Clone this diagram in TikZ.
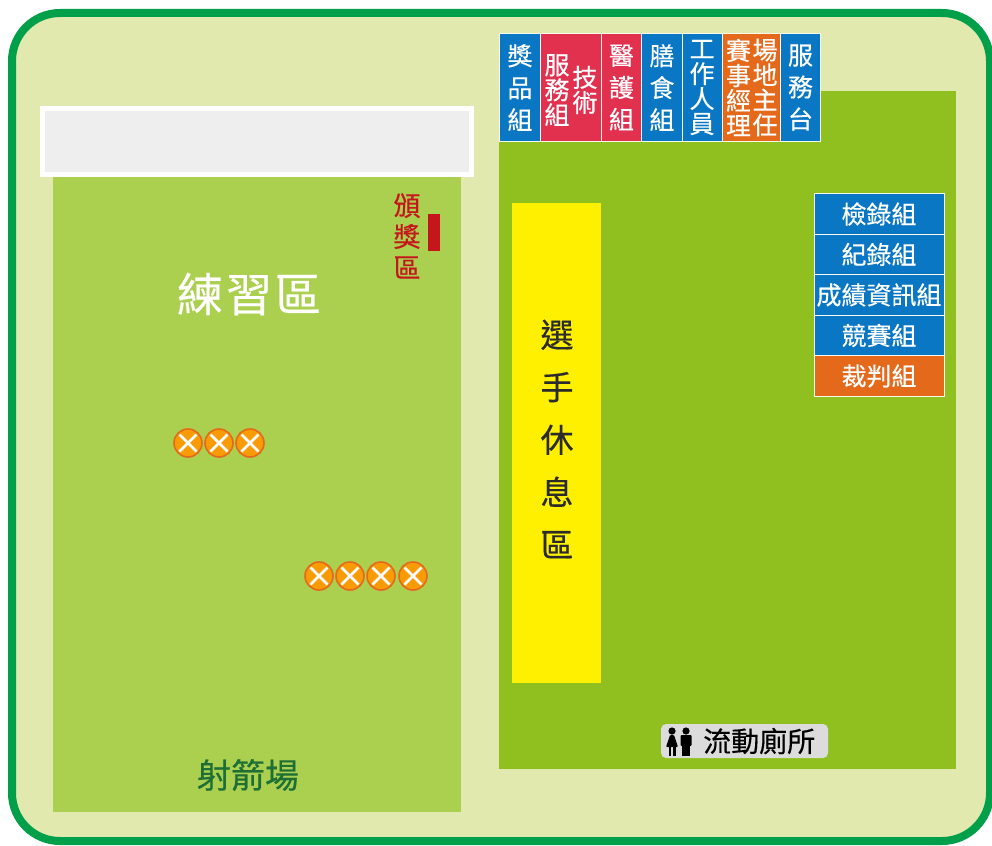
\documentclass[tikz,border=0pt]{standalone}
\usepackage{fontspec}
\setmainfont{Noto Sans CJK TC}[FakeBold=0.4]
\definecolor{bgc}{HTML}{E1E9AE}
\definecolor{bordc}{HTML}{00A04A}
\definecolor{fieldl}{HTML}{ABCF4F}
\definecolor{fieldr}{HTML}{8FC01F}
\definecolor{bluec}{HTML}{0A77C4}
\definecolor{redc}{HTML}{E2304F}
\definecolor{orangec}{HTML}{E4691A}
\definecolor{tfill}{HTML}{F99B05}
\definecolor{yellowc}{HTML}{FFF000}
\definecolor{darkred}{HTML}{C4161C}
\definecolor{labelg}{HTML}{1E6F36}
\definecolor{greyc}{HTML}{EEEEEE}
\definecolor{wcc}{HTML}{DCDCDC}
\definecolor{txtc}{HTML}{2B2B2B}
\tikzset{x=1pt,y=-1pt,
 vbox/.style={draw=white!75!bgc,line width=1pt,inner sep=0pt,text=white,font=\fontsize{25}{32}\selectfont,align=center},
 hbox/.style={draw=white!75!bgc,line width=1pt,inner sep=0pt,text=white,font=\fontsize{25}{26}\selectfont,align=center,minimum width=130pt,minimum height=41pt,anchor=center},
 vlabel/.style={text=white,inner sep=0pt,font=\fontsize{25}{25}\selectfont,align=center},
 target/.style={circle,draw=orangec,line width=1.6pt,fill=tfill,minimum size=28pt,inner sep=0pt,
   path picture={\draw[white,line width=2.6pt] (path picture bounding box.center) ++(-8.5pt,-8.5pt) -- ++(17pt,17pt);
                 \draw[white,line width=2.6pt] (path picture bounding box.center) ++(-8.5pt,8.5pt) -- ++(17pt,-17pt);}}
}
\newcommand{\vb}[7]{\node[vbox,fill=#6,minimum width=#3pt-#1pt,minimum height=#4pt-#2pt,anchor=north west] (#5) at (#1,#2) {#7};}
\begin{document}
\begin{tikzpicture}
\useasboundingbox (0,0) rectangle (992,845);
\fill[white] (0,0) rectangle (992,845);
\draw[bordc,line width=8pt,fill=bgc,rounded corners=48pt] (12,13) rectangle (990,841);
% fields
\fill[fieldl] (53,170) rectangle (461,812);
\fill[fieldr] (499,91) rectangle (956,769);
\node[draw=white,line width=5pt,fill=greyc,minimum width=429pt,minimum height=66pt,inner sep=0pt] (stage) at (257,142) {};
\fill[yellowc] (512,203) rectangle (601,683);
\node[text=txtc,font=\fontsize{33}{52.5}\selectfont,align=center] (rest) at (557,439) {選\\手\\休\\息\\區};
\node[text=white,font=\fontsize{46}{48}\selectfont] (prac) at (249,294) {練\hspace{3pt}習\hspace{3pt}區};
\node[text=labelg,font=\fontsize{34}{36}\selectfont] (arch) at (248,775) {射箭場};
\node[text=darkred,font=\fontsize{27}{31}\selectfont,align=center] (award) at (407,236) {頒\\獎\\區};
\fill[darkred] (428,214) rectangle (440,251);
% top boxes
\vb{499}{33}{540}{141}{a}{bluec}{獎\\品\\組}
\vb{540}{33}{601}{141}{b}{redc}{}
\vb{601}{33}{641}{141}{c}{redc}{醫\\護\\組}
\vb{641}{33}{682}{141}{d}{bluec}{膳\\食\\組}
\vb{682}{33}{722}{141}{e}{bluec}{}
\vb{722}{33}{780}{141}{f}{orangec}{}
\vb{780}{33}{820}{141}{g}{bluec}{服\\務\\台}
\node[vlabel] (b1) at (557,90) {服\\務\\組};
\node[vlabel] (b2) at (585,90) {技\\術};
\node[vlabel] (e1) at (702,87.5) {工\\作\\人\\員};
\node[vlabel] (f1) at (738.5,87.5) {賽\\事\\經\\理};
\node[vlabel] (f2) at (765,87.5) {場\\地\\主\\任};
% right boxes
\node[hbox,fill=bluec] (h1) at (879,214) {檢錄組};
\node[hbox,fill=bluec] (h2) at (879,254.5) {紀錄組};
\node[hbox,fill=bluec] (h3) at (879,295) {成績資訊組};
\node[hbox,fill=bluec] (h4) at (879,335.5) {競賽組};
\node[hbox,fill=orangec] (h5) at (879,376) {裁判組};
% targets
\foreach \n/\px/\py in {t1/188/443,t2/219/443,t3/250/443,t4/319/576,t5/350/576,t6/381/576,t7/413/576}
  \node[target] (\n) at (\px,\py) {};
% toilet
\fill[wcc,rounded corners=5pt] (661,724) rectangle (828,758);
\node[text=black,font=\fontsize{28}{30}\selectfont,anchor=west,inner sep=0pt] (wc) at (703,741) {流動廁所};
\fill[black] (672,731) circle (3.6);
\fill[black] (686,731) circle (3.6);
\fill[black,rounded corners=1pt] (670,735) -- (674,735) -- (678,747) -- (666,747) -- cycle;
\fill[black] (668.5,746) rectangle (671.3,756); \fill[black] (672.7,746) rectangle (675.5,756);
\fill[black,rounded corners=1pt] (680.5,735) rectangle (691.5,746);
\fill[black] (682,745) rectangle (685.6,756); \fill[black] (686.4,745) rectangle (690,756);
\end{tikzpicture}
\end{document}
